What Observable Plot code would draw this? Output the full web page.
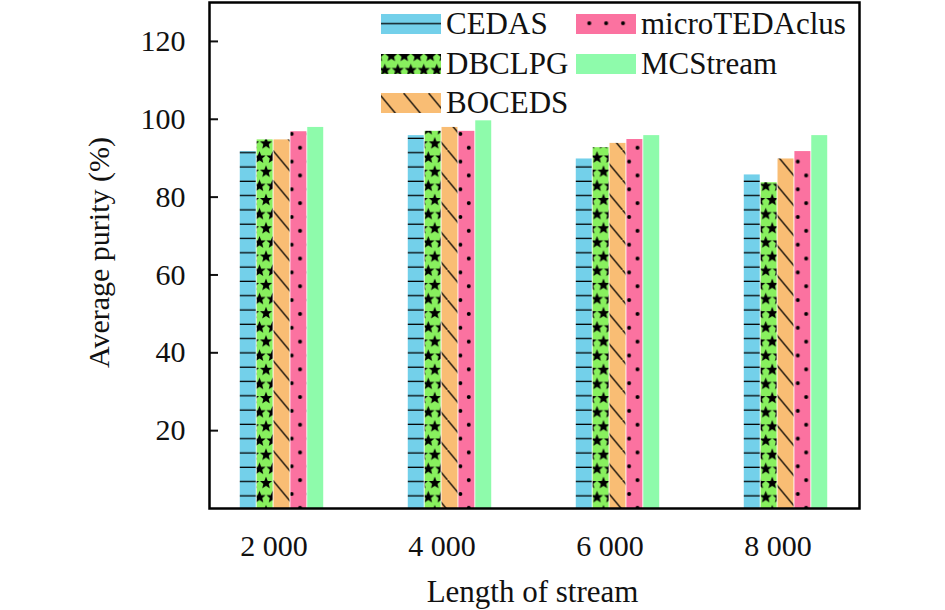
<!DOCTYPE html>
<html>
<head>
<meta charset="utf-8">
<script src="https://cdn.jsdelivr.net/npm/d3@7"></script>
<script src="https://cdn.jsdelivr.net/npm/@observablehq/plot@0.6"></script>
<style>
  body { margin: 0; background: #fff; }
  #wrap { position: relative; width: 945px; height: 610px; font-family: "Liberation Serif", "Times New Roman", serif; }
  .item { position: absolute; height: 20px; display: flex; align-items: center; font-size: 31px; color: #111; white-space: nowrap; }
  .item svg { flex: none; margin-right: 5px; }
</style>
</head>
<body>
<svg width="0" height="0" style="position:absolute">
  <defs>
    <path id="star" d="M0,-6.4L1.7,-2.1L6.1,-2L2.7,0.9L3.8,5.3L0,2.8L-3.8,5.3L-2.7,0.9L-6.1,-2L-1.7,-2.1Z" fill="#000"/>
    <pattern id="pCed" patternUnits="userSpaceOnUse" width="8" height="14.3" y="2.7">
      <rect width="8" height="14.3" fill="#73D0EA"/>
      <line x1="0" y1="7" x2="8" y2="7" stroke="#000" stroke-width="1.3"/>
    </pattern>
    <pattern id="pDb" patternUnits="userSpaceOnUse" width="12.98" height="28.3">
      <rect width="12.98" height="28.3" fill="#88F05E"/>
      <use href="#star" x="0" y="7"/>
      <use href="#star" x="12.98" y="7"/>
      <use href="#star" x="6.49" y="21.15"/>
      <use href="#star" x="6.49" y="-7.15"/>
      <use href="#star" x="6.49" y="35.45"/>
    </pattern>
    <pattern id="pBo" patternUnits="userSpaceOnUse" width="25" height="30">
      <rect width="25" height="30" fill="#F9BD74"/>
      <line x1="-1" y1="-1.2" x2="26" y2="31.2" stroke="#000" stroke-width="1.3"/>
    </pattern>
    <pattern id="pMi" patternUnits="userSpaceOnUse" width="16.87" height="27.7">
      <rect width="16.87" height="27.7" fill="#FB72A0"/>
      <circle cx="10.7" cy="6" r="2" fill="#000"/>
      <circle cx="2.3" cy="19.85" r="2" fill="#000"/>
    </pattern>
  </defs>
</svg>
<div id="wrap"></div>
<script>
// ---- data ----
const groups = ["2 000", "4 000", "6 000", "8 000"];
const seriesNames = ["CEDAS", "DBCLPG", "BOCEDS", "microTEDAclus", "MCStream"];
const CEDAS = [91.7, 95.8, 89.8, 85.7];
const DBCLPG = [94.7, 96.9, 92.7, 83.7];
const BOCEDS = [94.7, 97.9, 93.8, 89.8];
const microTEDAclus = [96.8, 96.9, 94.8, 91.7];
const MCStream = [97.9, 99.6, 95.8, 95.8];
const yTicks = [20, 40, 60, 80, 100, 120];
const xLabel = "Length of stream";
const yLabel = "Average purity (%)";

const seriesValues = [CEDAS, DBCLPG, BOCEDS, microTEDAclus, MCStream];
const fills = ["url(#pCed)", "url(#pDb)", "url(#pBo)", "url(#pMi)", "#8EFBAB"];

// ---- layout ----
const width = 945, height = 610;
const marginLeft = 209, marginRight = 86, marginTop = 2, marginBottom = 102;
const padInner = 0.147;
const step = (width - marginLeft - marginRight) / (groups.length - padInner);
const bandwidth = step * (1 - padInner);
const barW = step / 10;
const inset = (bandwidth - barW) / 2;
const firstCenter = marginLeft + bandwidth / 2;
const barLeft = (i) => firstCenter - 2.5 * barW + i * barW;

// align pattern tiles with the first group's bars
document.getElementById("pDb").setAttribute("x", barLeft(1) + 1.3);
document.getElementById("pDb").setAttribute("y", 313.3 - 7);
document.getElementById("pMi").setAttribute("x", barLeft(3));
document.getElementById("pMi").setAttribute("y", 314 - 6);
document.getElementById("pBo").setAttribute("x", barLeft(2));

const barMarks = seriesNames.map((name, i) =>
  Plot.barY(groups.map((g, j) => ({group: g, value: seriesValues[i][j]})), {
    x: "group",
    y: "value",
    fill: fills[i],
    insetLeft: inset,
    insetRight: inset,
    dx: (i - (seriesNames.length - 1) / 2) * barW
  })
);

const plot = Plot.plot({
  width, height, marginLeft, marginRight, marginTop, marginBottom,
  style: {fontFamily: "'Liberation Serif', 'Times New Roman', serif", fontSize: "30px", color: "#111", background: "transparent"},
  x: {domain: groups, paddingInner: padInner, paddingOuter: 0, axis: null},
  y: {domain: [0, 130], axis: null},
  marks: [
    ...barMarks,
    Plot.axisY(yTicks, {tickSize: -9, tickFormat: () => "", strokeWidth: 2, label: null}),
    Plot.axisY(yTicks, {tickSize: 0, tickPadding: 24, label: null}),
    Plot.axisX(groups, {tickSize: 0, tickPadding: 26, dx: -8, label: null}),
    Plot.frame({stroke: "#000", strokeWidth: 2.5}),
    Plot.text([xLabel], {frameAnchor: "bottom", textAnchor: "middle", dy: 93, dx: -2, fontSize: 31}),
    Plot.text([yLabel], {frameAnchor: "left", textAnchor: "middle", rotate: -90, dx: -110, dy: -3, fontSize: 30})
  ]
});

const wrap = document.getElementById("wrap");
wrap.appendChild(plot);

// legend (HTML overlay)
const legendPos = [
  {left: 381, top: 14}, {left: 381, top: 54}, {left: 381, top: 93},
  {left: 576, top: 14}, {left: 576, top: 54}
];
seriesNames.forEach((name, i) => {
  const d = document.createElement("div");
  d.className = "item";
  d.style.left = legendPos[i].left + "px";
  d.style.top = legendPos[i].top + "px";
  d.innerHTML = `<svg width="60" height="20"><rect width="60" height="20" fill="${fills[i]}"/></svg><span>${name}</span>`;
  wrap.appendChild(d);
});
</script>
</body>
</html>
